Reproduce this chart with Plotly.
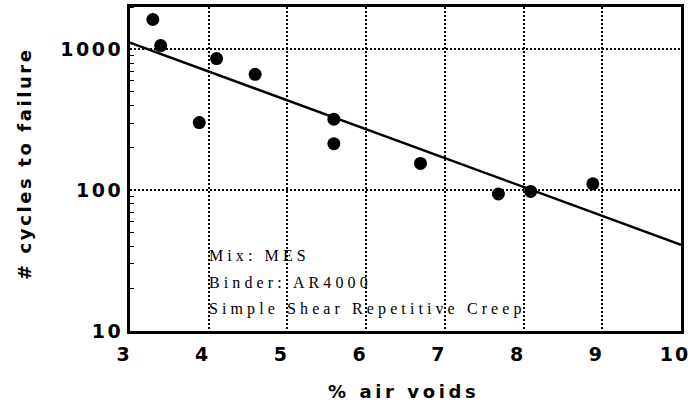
import plotly.graph_objects as go

# Data
air_voids = [3.29, 3.39, 3.88, 4.10, 4.59, 5.59, 5.59, 6.69, 7.68, 8.09, 8.88]
cycles = [1630, 1065, 302, 860, 665, 319, 214, 155, 94, 98, 111]

fit_x = [3, 10]
fit_y = [1115, 41]

x_ticks = [3, 4, 5, 6, 7, 8, 9, 10]
y_ticks = [10, 100, 1000]
y_minor = [m * d for d in (10, 100, 1000) for m in range(2, 10)]

notes = ["Mix: MES", "Binder: AR4000", "Simple Shear Repetitive Creep"]
x_title = "% air voids"
y_title = "# cycles to failure"

W, H = 692, 406
ML, MR, MT, MB = 130, 11, 7, 75


def spaced(t, ls):
    return f'<span style="letter-spacing:{ls}px">{t}</span>'


fig = go.Figure()
fig.add_trace(go.Scatter(x=fit_x, y=fit_y, mode="lines",
                         line=dict(color="black", width=2.5), hoverinfo="skip"))
fig.add_trace(go.Scatter(x=air_voids, y=cycles, mode="markers",
                         marker=dict(color="black", size=13, line=dict(width=0))))

tickfont = dict(family="DejaVu Sans", size=19, color="black", weight="bold")

fig.update_xaxes(range=[3, 10], tickmode="array", tickvals=x_ticks,
                 ticktext=[spaced(str(v), 2) for v in x_ticks],
                 tickfont=tickfont, showline=True, linecolor="black", linewidth=3,
                 mirror=True, showgrid=True, gridcolor="black", gridwidth=1.5,
                 griddash="2px,2px", zeroline=False, ticks="", ticklabelstandoff=4,
                 ticklabelshift=-6, ticklabeloverflow="allow", automargin=False)
fig.update_yaxes(type="log", range=[1, 3.301], tickmode="array", tickvals=y_ticks,
                 ticktext=[spaced(str(v), 2.5) for v in y_ticks],
                 tickfont=tickfont, showline=True, linecolor="black", linewidth=3,
                 mirror=True, showgrid=True, gridcolor="black", gridwidth=1.5,
                 griddash="2px,2px", zeroline=False, ticks="", ticklabelstandoff=0,
                 ticklabeloverflow="allow", automargin=False,
                 minor=dict(tickmode="array", tickvals=y_minor, ticks="inside",
                            ticklen=4, tickwidth=1, tickcolor="black", showgrid=False))

pw = W - ML - MR
ph = H - MT - MB
annots = []
for i, t in enumerate(notes):
    ycen = 255 + 27 * i
    annots.append(dict(text=spaced(t, 4.1), xref="paper", yref="paper",
                       x=(207 - ML) / pw, y=(H - MB - ycen) / ph,
                       xanchor="left", yanchor="middle", showarrow=False,
                       font=dict(family="Liberation Serif", size=16, color="black")))
annots.append(dict(text=spaced(x_title, 3.6), xref="paper", yref="paper",
                   x=(403 - ML) / pw, y=(H - MB - 391) / ph, xanchor="center",
                   yanchor="middle", showarrow=False,
                   font=dict(family="DejaVu Sans", size=18, color="black", weight="bold")))
annots.append(dict(text=spaced(y_title, 2.6), xref="paper", yref="paper",
                   x=(24 - ML) / pw, y=(H - MB - 164) / ph, xanchor="center",
                   yanchor="middle", textangle=-90, showarrow=False,
                   font=dict(family="DejaVu Sans", size=18, color="black", weight="bold")))

fig.update_layout(width=W, height=H, margin=dict(l=ML, r=MR, t=MT, b=MB),
                  paper_bgcolor="white", plot_bgcolor="white", showlegend=False,
                  annotations=annots)

fig.write_html("out.html")
